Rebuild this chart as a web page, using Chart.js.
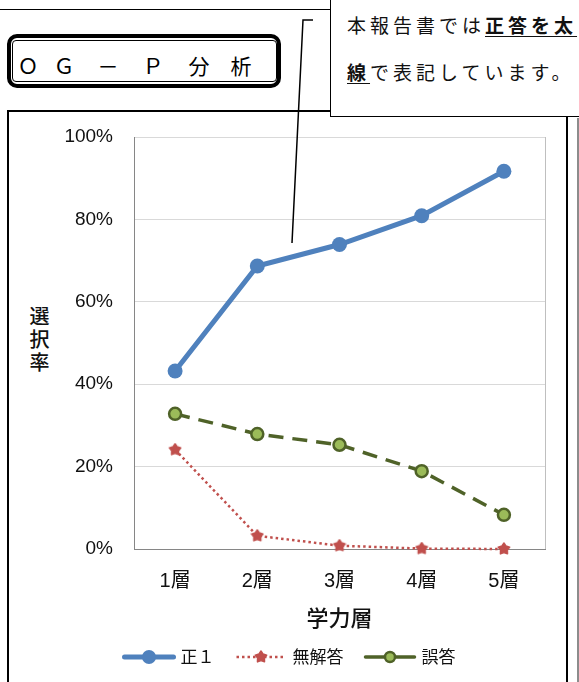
<!DOCTYPE html>
<html lang="ja">
  <head>
    <meta charset="UTF-8" />
    <title>OG-P分析</title>
    <style>
      body { margin: 0; width: 579px; height: 682px; overflow: hidden; background: #fff; position: relative; font-family: "Noto Sans CJK JP", sans-serif; }
      .abs { position: absolute; }
      #topLine { left: 0; top: 9px; width: 332px; border-top: 1.5px solid #000; }
      #frame { left: 7px; top: 110px; width: 561px; height: 620px; border: 2px solid #000; box-sizing: border-box; }
      #edge { left: 577px; top: 118px; width: 2px; height: 600px; background: #8c8c8c; }
      #ogpOuter { left: 7px; top: 34px; width: 274px; height: 54px; border: 4px solid #000; border-radius: 10px; box-sizing: border-box; }
      #ogpInner { left: 12px; top: 40px; width: 265px; height: 42px; border: 1.3px solid #000; border-radius: 4px; box-sizing: border-box; }
      .ogp { top: 50px; width: 30px; margin-left: -15px; text-align: center; font-size: 21px; line-height: 30px; color: #000; }
      #note { left: 330px; top: -2px; width: 262px; height: 119px; border: 1.5px solid #000; background: #fff; box-sizing: border-box; z-index: 3; }
      .noteLine { left: 347px; font-size: 19px; letter-spacing: 4px; line-height: 26px; color: #111; z-index: 4; white-space: nowrap; }
      .noteLine b { font-weight: 700; text-decoration: underline; text-underline-offset: 3px; }
      #yTitle { left: 25px; top: 306px; writing-mode: vertical-rl; font-size: 20px; letter-spacing: 3px; color: #111; font-weight: 500; }
      #chart { left: 0; top: 0; z-index: 2; }
      #pointer { left: 0; top: 0; z-index: 5; }
    </style>
  </head>

  <body>
    <div id="topLine" class="abs"></div>
    <div id="frame" class="abs"></div>
    <div id="edge" class="abs"></div>

    <!-- title box -->
    <div id="ogpOuter" class="abs"></div>
    <div id="ogpInner" class="abs"></div>
    <span class="abs ogp" style="left: 28px">Ｏ</span>
    <span class="abs ogp" style="left: 64px">Ｇ</span>
    <span class="abs ogp" style="left: 108px">－</span>
    <span class="abs ogp" style="left: 153px">Ｐ</span>
    <span class="abs ogp" style="left: 199px">分</span>
    <span class="abs ogp" style="left: 241px">析</span>

    <!-- callout note -->
    <div id="note" class="abs"></div>
    <div class="abs noteLine" style="top: 12px">本報告書では<b>正答を太</b></div>
    <div class="abs noteLine" style="top: 59px"><b>線</b>で表記しています。</div>

    <div id="yTitle" class="abs">選択率</div>

    <canvas id="chart" class="abs" width="579" height="682"></canvas>

    <svg id="pointer" class="abs" width="579" height="682">
      <polyline points="292,243 303,20 313,20" fill="none" stroke="#000" stroke-width="1.5" />
    </svg>

    <script src="https://cdn.jsdelivr.net/npm/chart.js"></script>
    <script>
      // data (%)
      const layers = ['1層', '2層', '3層', '4層', '5層']
      const seikai = [43.2, 68.7, 73.9, 80.9, 91.7]
      const mukaitou = [24.1, 3.2, 0.8, 0.1, 0]
      const gotou = [32.8, 27.9, 25.3, 18.9, 8.3]

      const seriesNames = ['正１', '無解答', '誤答']

      // filled star marker like the Excel one
      function makeStar(r, color) {
        const c = document.createElement('canvas')
        c.width = c.height = 2 * r + 2
        const g = c.getContext('2d')
        g.fillStyle = color
        g.strokeStyle = color
        g.lineWidth = 1.5
        g.lineJoin = 'round'
        g.beginPath()
        for (let i = 0; i < 10; i++) {
          const a = -Math.PI / 2 + (i * Math.PI) / 5
          const rad = i % 2 ? r * 0.6 : r
          g.lineTo(r + 1 + rad * Math.cos(a), r + 1 + rad * Math.sin(a))
        }
        g.closePath()
        g.fill()
        g.stroke()
        return c
      }
      const star = makeStar(6, '#C0504D')

      const plotBorder = {
        id: 'plotBorder',
        beforeDatasetsDraw(chart) {
          const { ctx, chartArea } = chart
          ctx.save()
          ctx.strokeStyle = '#BFBFBF'
          ctx.lineWidth = 1
          ctx.beginPath()
          ctx.moveTo(chartArea.right + 0.5, chartArea.top)
          ctx.lineTo(chartArea.right + 0.5, chartArea.bottom)
          ctx.stroke()
          ctx.restore()
        },
      }

      // legend with line sample + marker, like Excel
      const lineLegend = {
        id: 'lineLegend',
        afterDraw(chart) {
          const ctx = chart.ctx
          const sample = 53
          const gap = 5
          const itemGap = 20
          const y = 657
          ctx.save()
          ctx.font = '17px "Noto Sans CJK JP"'
          const widths = chart.data.datasets.map((ds) => sample + gap + ctx.measureText(ds.label).width)
          const total = widths.reduce((a, b) => a + b, 0) + itemGap * (widths.length - 1)
          let x = 289 - total / 2
          chart.data.datasets.forEach((ds, i) => {
            ctx.setLineDash(ds.legendDash || [])
            ctx.lineWidth = ds.borderWidth
            ctx.strokeStyle = ds.borderColor
            ctx.lineCap = ds.legendDash ? 'butt' : 'round'
            ctx.beginPath()
            ctx.moveTo(x + 2, y)
            ctx.lineTo(x + sample - 2, y)
            ctx.stroke()
            ctx.setLineDash([])
            const cx = x + sample / 2
            if (ds.pointStyle instanceof HTMLCanvasElement) {
              ctx.drawImage(ds.pointStyle, cx - ds.pointStyle.width / 2, y - ds.pointStyle.height / 2)
            } else {
              ctx.beginPath()
              ctx.arc(cx, y, ds.legendRadius, 0, Math.PI * 2)
              ctx.fillStyle = ds.pointBackgroundColor
              ctx.fill()
              if (ds.pointBorderWidth) {
                ctx.lineWidth = ds.pointBorderWidth
                ctx.strokeStyle = ds.pointBorderColor
                ctx.stroke()
              }
            }
            ctx.fillStyle = '#111'
            ctx.textBaseline = 'middle'
            ctx.fillText(ds.label, x + sample + gap, y)
            x += widths[i] + itemGap
          })
          ctx.restore()
        },
      }

      Chart.defaults.font.family = '"Liberation Sans", "Noto Sans CJK JP", sans-serif'
      Chart.defaults.color = '#111'

      new Chart('chart', {
        type: 'line',
        data: {
          labels: layers,
          datasets: [
            {
              label: seriesNames[0],
              data: seikai,
              borderColor: '#4F81BD',
              borderWidth: 5,
              pointStyle: 'circle',
              pointRadius: 7.5,
              legendRadius: 7,
              pointBackgroundColor: '#4F81BD',
              pointBorderColor: '#4F81BD',
              pointBorderWidth: 0,
              clip: false,
              order: 1,
            },
            {
              label: seriesNames[1],
              data: mukaitou,
              borderColor: '#C0504D',
              borderWidth: 2.5,
              borderDash: [2.5, 3],
              legendDash: [2.5, 3],
              pointStyle: star,
              pointRadius: 6,
              clip: false,
              order: 3,
            },
            {
              label: seriesNames[2],
              data: gotou,
              borderColor: '#4F6228',
              borderWidth: 3.5,
              borderDash: [15, 9],
              pointStyle: 'circle',
              pointRadius: 6,
              legendRadius: 5,
              pointBackgroundColor: '#9BBB59',
              pointBorderColor: '#4F6228',
              pointBorderWidth: 2.5,
              clip: false,
              order: 2,
            },
          ],
        },
        options: {
          responsive: false,
          animation: false,
          layout: { padding: { left: 60, top: 137, right: 34, bottom: 47 } },
          plugins: {
            legend: { display: false },
            tooltip: { enabled: false },
          },
          scales: {
            x: {
              offset: true,
              grid: { display: false, drawTicks: false },
              border: { color: '#868686', width: 1 },
              ticks: { padding: 20, font: { size: 20 }, color: '#111' },
              title: {
                display: true,
                text: '学力層',
                font: { size: 22, family: '"Noto Sans CJK JP"', weight: '500' },
                color: '#111',
                padding: { top: 0, bottom: 4 },
              },
              afterFit(scale) {
                scale.height = 86
              },
            },
            y: {
              min: 0,
              max: 100,
              ticks: { stepSize: 20, padding: 21, font: { size: 19 }, color: '#111', callback: (v) => v + '%' },
              grid: { color: '#D9D9D9', drawTicks: false },
              border: { color: '#868686', width: 1 },
              afterFit(scale) {
                scale.width = 74
              },
            },
          },
        },
        plugins: [plotBorder, lineLegend],
      })
    </script>
  </body>
</html>
